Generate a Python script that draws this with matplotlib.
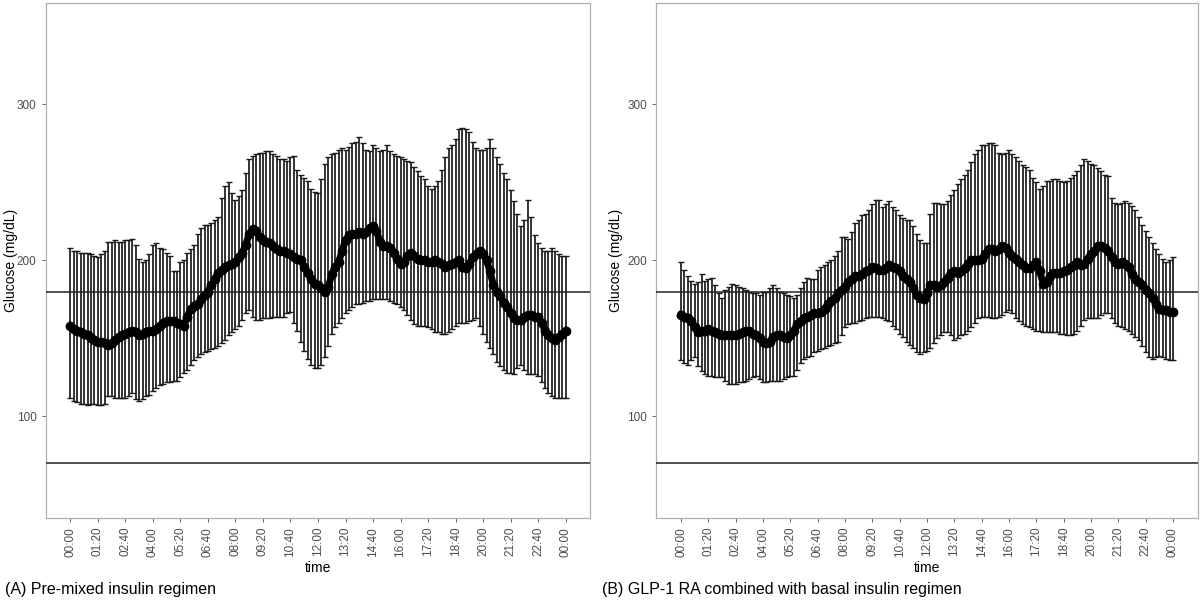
import numpy as np
import matplotlib
matplotlib.use('Agg')
import matplotlib.pyplot as plt

plt.rcParams['font.family'] = ['Liberation Sans', 'DejaVu Sans']

# minutes from midnight, one reading every 10 min
minutes = list(range(0, 1441, 10))

# (A) pre-mixed insulin
upper_a = [208, 206, 206, 205, 205, 205, 204, 203, 202, 204,
           206, 212, 212, 213, 212, 212, 213, 213, 214, 210,
           201, 199, 200, 204, 210, 211, 208, 207, 205, 203,
           193, 193, 199, 200, 205, 207, 210, 217, 221, 223,
           223, 224, 226, 228, 240, 248, 250, 243, 239, 241,
           245, 256, 265, 267, 268, 269, 269, 270, 270, 268,
           267, 265, 265, 264, 266, 267, 258, 255, 253, 251,
           246, 244, 243, 252, 262, 266, 268, 269, 271, 272,
           271, 273, 275, 276, 279, 275, 271, 270, 274, 272,
           270, 271, 274, 270, 268, 267, 266, 265, 264, 263,
           260, 257, 254, 252, 248, 246, 248, 251, 258, 266,
           272, 274, 278, 284, 285, 284, 282, 276, 272, 271,
           271, 272, 278, 272, 266, 262, 256, 252, 245, 238,
           230, 222, 226, 239, 228, 216, 211, 208, 206, 206,
           208, 206, 204, 203, 203]
mean_a = [158, 156, 155, 154, 153, 152, 150, 149, 148, 148,
          147, 146, 147, 149, 151, 152, 153, 154, 155, 154,
          152, 153, 154, 155, 155, 156, 158, 160, 161, 161,
          161, 160, 159, 158, 164, 169, 171, 172, 175, 178,
          180, 184, 188, 192, 194, 196, 197, 198, 199, 202,
          205, 210, 217, 220, 219, 215, 213, 212, 211, 209,
          207, 206, 206, 205, 204, 202, 201, 200, 196, 192,
          188, 185, 184, 182, 180, 183, 191, 196, 199, 206,
          213, 216, 217, 217, 218, 217, 218, 221, 222, 219,
          212, 209, 209, 208, 205, 201, 198, 199, 203, 205,
          203, 201, 200, 200, 199, 199, 200, 199, 198, 196,
          197, 198, 199, 200, 196, 195, 198, 202, 204, 206,
          204, 200, 193, 184, 180, 177, 173, 170, 166, 163,
          162, 162, 164, 165, 165, 164, 164, 160, 155, 152,
          150, 149, 151, 153, 155]
lower_a = [112, 110, 109, 108, 108, 107, 108, 108, 107, 107,
           108, 113, 113, 112, 112, 112, 112, 113, 115, 111,
           110, 111, 113, 114, 116, 118, 120, 121, 122, 122,
           123, 123, 125, 128, 130, 133, 136, 138, 140, 141,
           142, 143, 144, 145, 147, 149, 152, 154, 156, 158,
           162, 166, 168, 164, 162, 162, 163, 163, 163, 164,
           164, 164, 164, 166, 167, 160, 155, 148, 142, 137,
           133, 131, 131, 133, 138, 145, 153, 157, 160, 163,
           166, 168, 170, 172, 172, 173, 174, 174, 175, 175,
           175, 175, 175, 174, 173, 172, 170, 168, 165, 162,
           159, 158, 158, 158, 157, 156, 154, 154, 153, 153,
           154, 156, 158, 160, 160, 160, 161, 162, 163, 158,
           153, 148, 144, 140, 135, 132, 130, 128, 128, 127,
           131, 133, 130, 127, 127, 127, 126, 122, 118, 115,
           113, 112, 112, 112, 112]

# (B) GLP-1 RA + basal insulin
upper_b = [199, 194, 190, 187, 185, 186, 191, 187, 188, 189,
           184, 179, 176, 181, 183, 185, 184, 183, 182, 181,
           180, 179, 179, 178, 180, 180, 182, 184, 182, 180,
           179, 178, 177, 176, 178, 182, 186, 189, 188, 188,
           194, 196, 197, 199, 200, 203, 206, 215, 215, 214,
           218, 224, 226, 229, 230, 232, 236, 239, 239, 234,
           236, 238, 234, 232, 229, 227, 226, 226, 222, 217,
           213, 211, 211, 230, 237, 237, 236, 236, 238, 242,
           245, 249, 252, 255, 258, 263, 268, 271, 274, 274,
           275, 275, 274, 269, 268, 269, 271, 268, 266, 264,
           261, 260, 258, 253, 250, 246, 248, 251, 251, 252,
           252, 251, 250, 251, 253, 255, 257, 261, 265, 264,
           262, 261, 259, 257, 255, 254, 240, 237, 236, 237,
           238, 237, 235, 232, 228, 223, 219, 215, 211, 207,
           204, 201, 199, 200, 202]
mean_b = [165, 164, 163, 161, 157, 154, 155, 155, 156, 155,
          154, 153, 152, 152, 152, 152, 152, 153, 154, 155,
          155, 153, 152, 150, 148, 147, 148, 151, 152, 152,
          151, 150, 152, 155, 159, 161, 163, 164, 165, 166,
          166, 167, 169, 172, 174, 176, 179, 181, 183, 186,
          188, 190, 190, 191, 193, 194, 196, 195, 194, 194,
          195, 197, 196, 195, 193, 190, 188, 186, 182, 178,
          176, 175, 179, 184, 184, 183, 184, 186, 189, 192,
          193, 192, 193, 195, 198, 200, 200, 200, 201, 204,
          207, 207, 206, 207, 209, 208, 205, 203, 201, 199,
          197, 195, 195, 197, 199, 193, 185, 186, 190, 192,
          192, 192, 193, 194, 196, 197, 199, 197, 198, 201,
          204, 206, 209, 209, 208, 206, 202, 199, 198, 199,
          198, 196, 191, 188, 186, 184, 181, 179, 176, 172,
          169, 168, 168, 167, 167]
lower_b = [136, 134, 133, 136, 138, 132, 129, 127, 126, 126,
           125, 125, 125, 123, 121, 121, 121, 122, 122, 123,
           124, 125, 126, 124, 122, 122, 123, 123, 123, 123,
           124, 125, 126, 126, 130, 134, 137, 138, 139, 141,
           142, 143, 144, 145, 146, 147, 148, 152, 157, 159,
           160, 160, 161, 162, 163, 164, 164, 164, 164, 163,
           162, 161, 158, 156, 153, 151, 148, 146, 144, 141,
           140, 141, 142, 144, 147, 150, 152, 154, 154, 152,
           149, 150, 152, 153, 155, 157, 160, 163, 164, 164,
           164, 163, 163, 164, 165, 167, 168, 166, 163, 161,
           159, 158, 157, 156, 155, 155, 154, 154, 154, 154,
           154, 153, 153, 152, 152, 153, 155, 158, 162, 163,
           163, 163, 163, 165, 166, 166, 163, 160, 158, 157,
           156, 155, 153, 151, 149, 145, 141, 138, 137, 138,
           139, 138, 137, 136, 136]

captions = ['(A) Pre-mixed insulin regimen',
            '(B) GLP-1 RA combined with basal insulin regimen']
tick_minutes = list(range(0, 1441, 80))
tick_labels = ['%02d:%02d' % ((m // 60) % 24, m % 60) for m in tick_minutes]
target_lines = [70, 180]

fig = plt.figure(figsize=(12, 6), dpi=100)
ax_a = fig.add_axes([0.038, 0.137, 0.454, 0.858])
ax_b = fig.add_axes([0.547, 0.137, 0.451, 0.858])

panels = [(ax_a, upper_a, mean_a, lower_a, -0.051),
          (ax_b, upper_b, mean_b, lower_b, -0.062)]
t = np.array(minutes)
for ax, up, mn, lo, ylab_x in panels:
    up, mn, lo = np.array(up), np.array(mn), np.array(lo)
    ax.errorbar(t, mn, yerr=[mn - lo, up - mn], fmt='none', ecolor='#1a1a1a',
                elinewidth=1.25, capsize=2.2, capthick=1.0, zorder=2)
    for h in target_lines:
        ax.axhline(h, color='#222222', lw=1.1, zorder=3)
    ax.plot(t, mn, color='black', lw=5, marker='o', ms=6, zorder=4)
    ax.set_xlim(-72, 1512)
    ax.set_ylim(35, 365)
    ax.set_yticks([100, 200, 300])
    ax.set_xticks(tick_minutes)
    ax.set_xticklabels(tick_labels, rotation=90)
    ax.tick_params(colors='#4d4d4d', labelsize=8.5, length=3, width=0.6,
                   labelcolor='#4d4d4d')
    for s in ax.spines.values():
        s.set_color('#b0b0b0')
        s.set_linewidth(0.9)
    ax.set_xlabel('time', fontsize=10, labelpad=3)
    ax.set_ylabel('Glucose (mg/dL)', fontsize=10)
    ax.yaxis.set_label_coords(ylab_x, 0.5)

fig.text(0.004, 0.018, captions[0], fontsize=11.5, va='center')
fig.text(0.502, 0.018, captions[1], fontsize=11.5, va='center')

fig.savefig('out.png', dpi=100)
